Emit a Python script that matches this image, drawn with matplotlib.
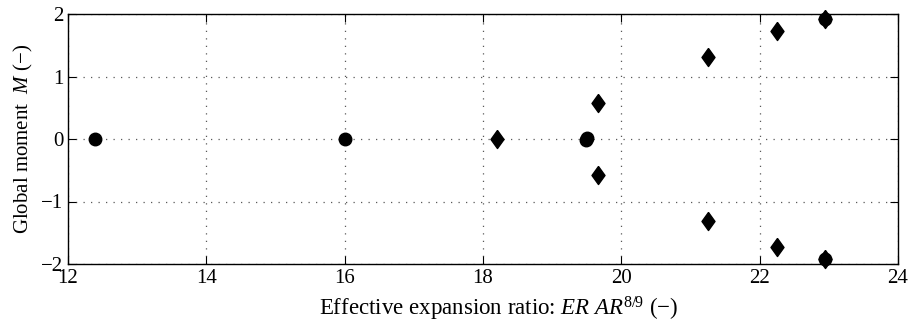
import numpy as np
from matplotlib import pyplot as plt

plt.rcParams['font.family'] = 'Liberation Serif'
plt.rcParams['mathtext.fontset'] = 'custom'
plt.rcParams['mathtext.rm'] = 'Liberation Serif'
plt.rcParams['mathtext.it'] = 'Liberation Serif:italic'

# circles
circ_x = [12.39, 16.0, 19.49, 19.5, 22.94, 22.94]
circ_y = [0.0, 0.0, -0.02, 0.02, 1.92, -1.92]
# diamonds
diam_x = [18.2, 19.66, 19.66, 21.25, 21.25, 22.25, 22.25, 22.94, 22.94]
diam_y = [0.0, 0.576, -0.576, 1.31, -1.31, 1.73, -1.73, 1.92, -1.92]

fig = plt.figure(figsize=(9.11, 3.31), dpi=100)
ax = fig.add_axes([68/911, 1 - 264/331, 830/911, 250/331])

diamond = [(0, 1), (0.72, 0), (0, -1), (-0.72, 0), (0, 1)]
ax.plot(diam_x, diam_y, 'k', ls='none', marker=diamond, ms=13, clip_on=False, zorder=3)
ax.plot(circ_x, circ_y, 'ko', ms=9, clip_on=False, zorder=3)

ax.set_xlim(12, 24)
ax.set_ylim(-2, 2)
ax.set_xticks(np.arange(12, 25, 2))
ax.set_yticks(np.arange(-2, 3, 1))
ax.set_yticklabels(['\u22122', '\u22121', '0', '1', '2'])
ax.grid(True, linestyle=(0, (1, 5)), color='0.35', linewidth=0.9)
ax.tick_params(direction='in', labelsize=15, length=6, top=True, right=True)
for s in ax.spines.values():
    s.set_linewidth(1.0)

ax.set_xlabel('Effective expansion ratio: $ER\\ AR^{8/9}$ (\u2212)', fontsize=16.5, labelpad=5)
ax.xaxis.label.set_x(0.519)
ax.set_ylabel('Global moment  $M$ (\u2212)', fontsize=15)

fig.savefig('out.png', dpi=100)
